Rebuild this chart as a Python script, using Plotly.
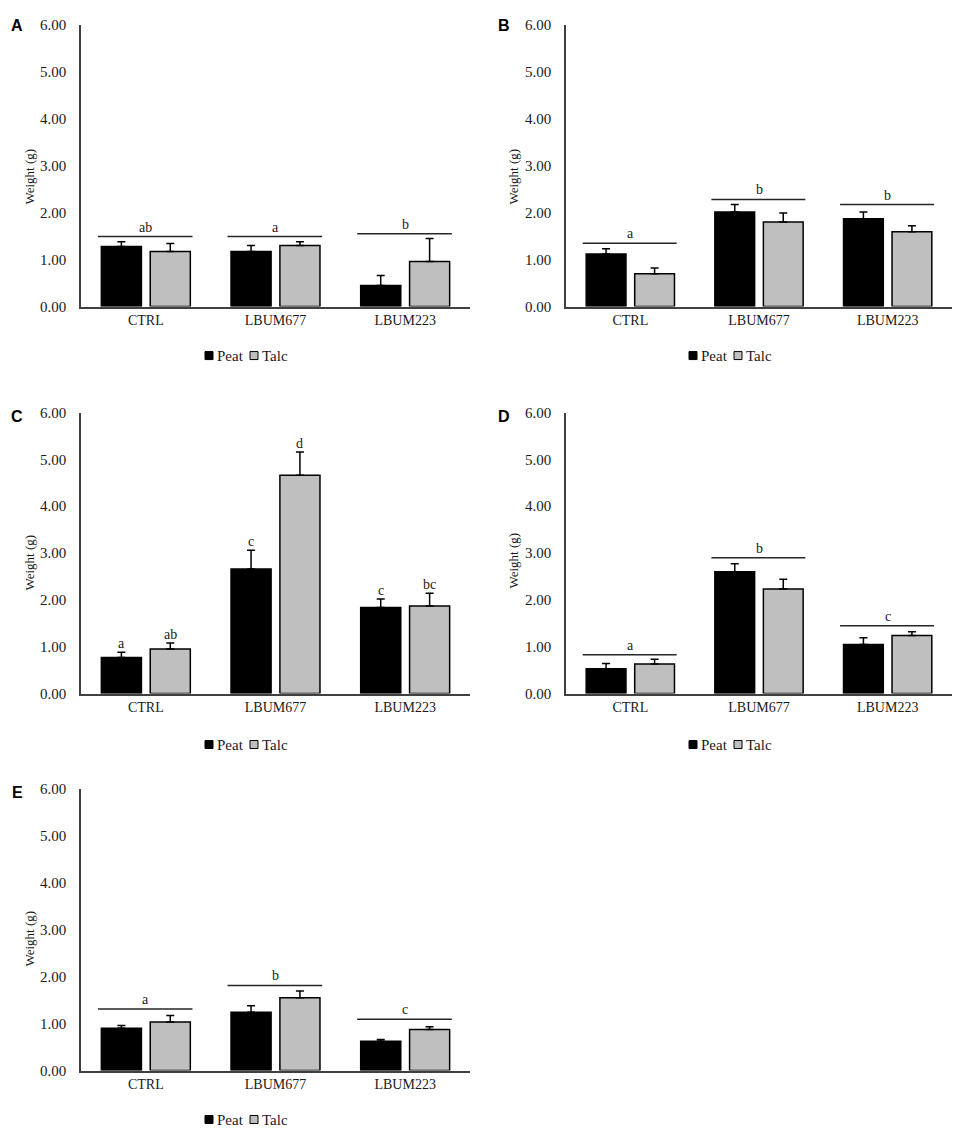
import plotly.graph_objects as go

W, H = 957, 1136

categories = ["CTRL", "LBUM677", "LBUM223"]
y_ticks = [0, 1, 2, 3, 4, 5, 6]
series_names = ["Peat", "Talc"]

# panel A
peat_a = [1.28, 1.17, 0.45]
peat_a_err = [0.10, 0.13, 0.21]
talc_a = [1.17, 1.30, 0.96]
talc_a_err = [0.17, 0.08, 0.49]
group_line_a = [1.49, 1.49, 1.55]
group_letters_a = ["ab", "a", "b"]

# panel B
peat_b = [1.12, 2.01, 1.87]
peat_b_err = [0.11, 0.16, 0.14]
talc_b = [0.70, 1.80, 1.59]
talc_b_err = [0.12, 0.19, 0.13]
group_line_b = [1.35, 2.28, 2.17]
group_letters_b = ["a", "b", "b"]

# panel C (letters per bar)
peat_c = [0.77, 2.66, 1.84]
peat_c_err = [0.11, 0.40, 0.18]
talc_c = [0.95, 4.66, 1.87]
talc_c_err = [0.13, 0.50, 0.27]
peat_letters_c = ["a", "c", "c"]
talc_letters_c = ["ab", "d", "bc"]

# panel D
peat_d = [0.53, 2.60, 1.05]
peat_d_err = [0.11, 0.17, 0.14]
talc_d = [0.63, 2.23, 1.24]
talc_d_err = [0.10, 0.21, 0.08]
group_line_d = [0.83, 2.90, 1.45]
group_letters_d = ["a", "b", "c"]

# panel E
peat_e = [0.90, 1.24, 0.62]
peat_e_err = [0.06, 0.14, 0.04]
talc_e = [1.03, 1.55, 0.87]
talc_e_err = [0.14, 0.14, 0.06]
group_line_e = [1.31, 1.81, 1.09]
group_letters_e = ["a", "b", "c"]

SERIF = "Liberation Serif"
SANS = "Liberation Sans"
TEXT_COLOR = "#1a1a1a"
PEAT_COLOR = "black"
TALC_COLOR = "#BFBFBF"
AXIS_COLOR = "#404040"
BARGAP = 0.246

# pixel boxes of each plot area: (left, right, top, bottom)
boxes = {
    "A": (81, 470, 25, 307),
    "B": (566, 952, 25, 307),
    "C": (81, 470, 413, 694),
    "D": (566, 952, 413, 694),
    "E": (81, 470, 789, 1071),
}
# panel letter, y title and legend positions in pixels
label_pos = {"A": (17, 26), "B": (504, 26), "C": (17, 417), "D": (504, 417), "E": (17, 793)}
ytitle_pos = {"A": (30, 177), "B": (514, 177), "C": (30, 563), "D": (514, 561), "E": (30, 939)}
legend_pos = {"A": (205, 356), "B": (689, 356), "C": (205, 745), "D": (689, 745), "E": (205, 1120)}

panels = [
    ("A", peat_a, peat_a_err, talc_a, talc_a_err, group_line_a, group_letters_a),
    ("B", peat_b, peat_b_err, talc_b, talc_b_err, group_line_b, group_letters_b),
    ("C", peat_c, peat_c_err, talc_c, talc_c_err, None, None),
    ("D", peat_d, peat_d_err, talc_d, talc_d_err, group_line_d, group_letters_d),
    ("E", peat_e, peat_e_err, talc_e, talc_e_err, group_line_e, group_letters_e),
]

fig = go.Figure()
shapes = []
annotations = []
layout = {}

# the photographed page comes out ~1.4% shorter with an 8px top offset,
# so map reference pixels back to figure pixels vertically
SY, OY = 0.986, 8.4


def px_x(p):
    return p / W


def px_y(p):
    return 1 - ((p - OY) / SY) / H


for n, (name, peat, peat_err, talc, talc_err, line_vals, letters) in enumerate(panels, start=1):
    sfx = "" if n == 1 else str(n)
    xa, ya = "x" + sfx, "y" + sfx

    for vals, errs, color, sname in [(peat, peat_err, PEAT_COLOR, series_names[0]),
                                     (talc, talc_err, TALC_COLOR, series_names[1])]:
        fig.add_trace(go.Bar(
            x=categories, y=vals, name=sname,
            marker=dict(color=color, line=dict(color="black", width=1.5)),
            error_y=dict(type="data", symmetric=False, array=errs,
                         arrayminus=[0] * len(errs), color="black",
                         thickness=1.5, width=4),
            xaxis=xa, yaxis=ya, showlegend=False, hoverinfo="x+y",
        ))

    left, right, top, bottom = boxes[name]
    layout["xaxis" + sfx] = dict(
        domain=[px_x(left), px_x(right)], anchor=ya,
        showline=True, linecolor=AXIS_COLOR, linewidth=1.6,
        showgrid=False, zeroline=False, ticks="",
        tickfont=dict(family=SERIF, size=14, color=TEXT_COLOR),
    )
    layout["yaxis" + sfx] = dict(
        domain=[px_y(bottom), px_y(top)], anchor=xa, range=[0, 6],
        tickvals=y_ticks, tickformat=".2f",
        showline=True, linecolor=AXIS_COLOR, linewidth=1.6,
        showgrid=False, zeroline=False, ticks="", ticklabelstandoff=10,
        tickfont=dict(family=SERIF, size=15, color=TEXT_COLOR),
    )

    # significance lines over groups
    if line_vals is not None:
        for i, (v, t) in enumerate(zip(line_vals, letters)):
            shapes.append(dict(type="line", xref=xa, yref=ya,
                               x0=i - 0.37, x1=i + 0.36, y0=v, y1=v,
                               line=dict(color="#262626", width=1.5)))
            annotations.append(dict(x=i, y=v, xref=xa, yref=ya, text=t,
                                    showarrow=False, yanchor="bottom", yshift=0,
                                    font=dict(family=SERIF, size=14, color=TEXT_COLOR)))
    else:
        slot = (1 - BARGAP) / 2
        for i in range(len(categories)):
            for off, top_v, t in [(-slot / 2, peat[i] + peat_err[i], peat_letters_c[i]),
                                  (slot / 2, talc[i] + talc_err[i], talc_letters_c[i])]:
                annotations.append(dict(x=i + off, y=top_v, xref=xa, yref=ya, text=t,
                                        showarrow=False, yanchor="bottom", yshift=-1,
                                        font=dict(family=SERIF, size=14, color=TEXT_COLOR)))

    # legend: swatches and labels
    lx, ly = legend_pos[name]
    for k, (sname, color) in enumerate(zip(series_names, [PEAT_COLOR, TALC_COLOR])):
        sx = lx + 45 * k
        shapes.append(dict(type="rect", xref="paper", yref="paper",
                           x0=px_x(sx), x1=px_x(sx + 8), y0=px_y(ly + 4), y1=px_y(ly - 4),
                           fillcolor=color, line=dict(color="black", width=1)))
        annotations.append(dict(x=px_x(sx + 10), y=px_y(ly), xref="paper", yref="paper",
                                text=sname, showarrow=False, xanchor="left", yanchor="middle",
                                font=dict(family=SERIF, size=15, color=TEXT_COLOR)))

    # panel letter
    px, py = label_pos[name]
    annotations.append(dict(x=px_x(px), y=px_y(py), xref="paper", yref="paper",
                            text="<b>" + name + "</b>", showarrow=False,
                            xanchor="center", yanchor="middle",
                            font=dict(family=SANS, size=16, color="black")))
    # y axis title
    tx, ty = ytitle_pos[name]
    annotations.append(dict(x=px_x(tx), y=px_y(ty), xref="paper", yref="paper",
                            text="Weight (g)", textangle=-90, showarrow=False,
                            xanchor="center", yanchor="middle",
                            font=dict(family=SERIF, size=13, color=TEXT_COLOR)))

fig.update_layout(
    width=W, height=H,
    margin=dict(l=0, r=0, t=0, b=0),
    paper_bgcolor="white", plot_bgcolor="white",
    barmode="group", bargap=BARGAP, bargroupgap=0.18,
    showlegend=False,
    shapes=shapes, annotations=annotations,
    **layout,
)

# pin the figure to the top-left corner of the page, no scrollbars
pin_js = (
    "document.documentElement.style.margin='0';"
    "document.body.style.margin='0';"
    "document.body.style.overflow='hidden';"
    "var d=document.getElementById('{plot_id}');"
    "d.style.position='absolute';d.style.left='0px';d.style.top='0px';"
)

fig.write_html("out.html", config={"displayModeBar": False}, post_script=pin_js)
